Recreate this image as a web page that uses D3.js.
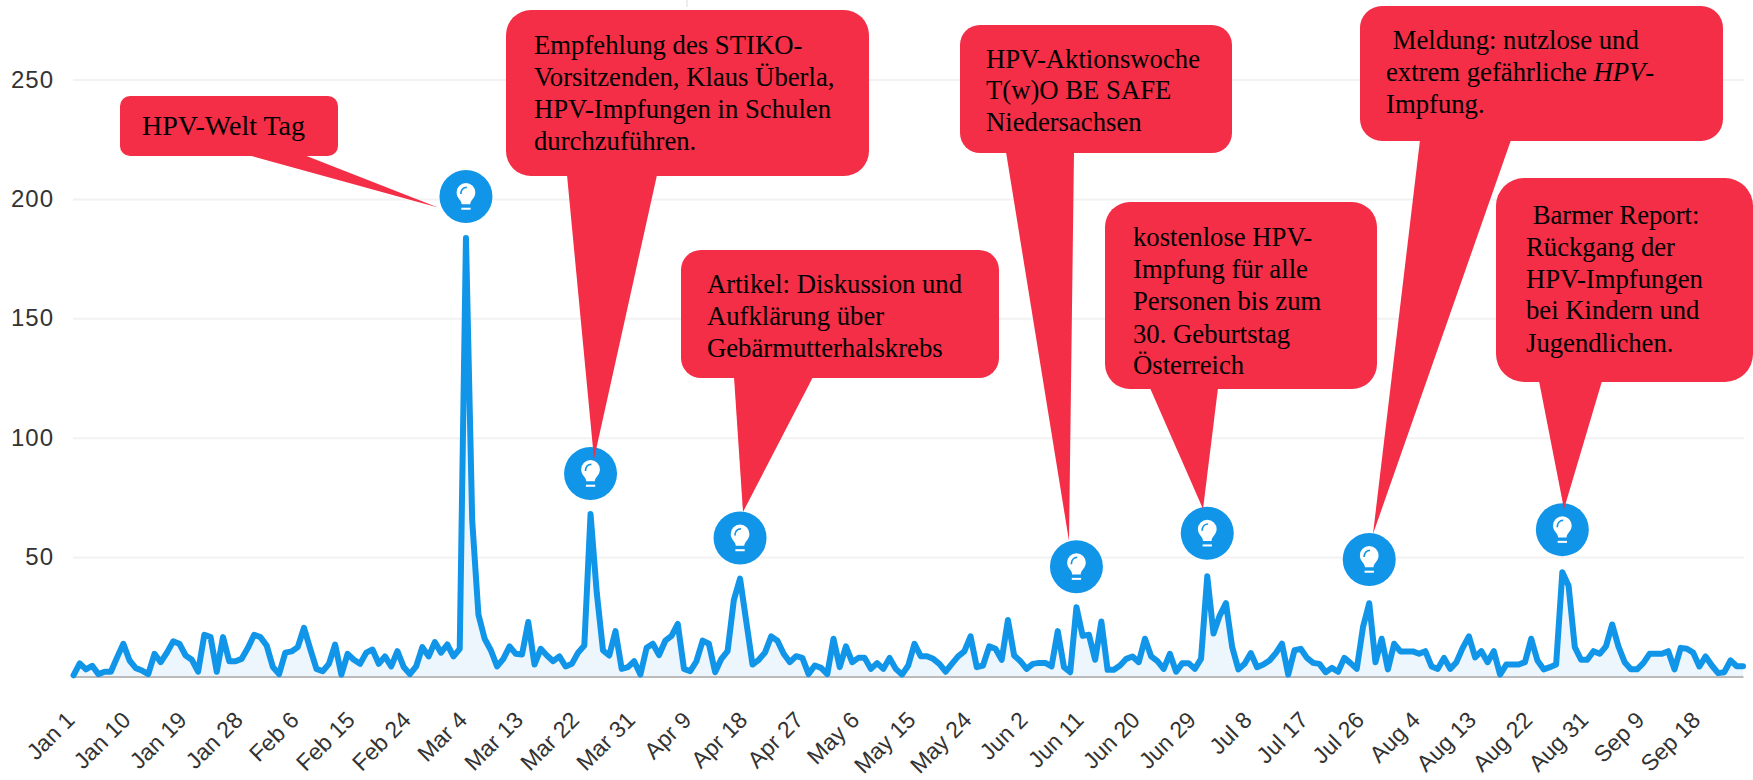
<!DOCTYPE html>
<html><head><meta charset="utf-8">
<script src="https://cdn.jsdelivr.net/npm/d3@7"></script>
<style>html,body{margin:0;padding:0;background:#fff;overflow:hidden}svg{display:block}</style>
</head><body><svg id="c" width="1753" height="780"></svg>
<script>
const values = [0.5,5.5,3,4.5,1,2,2,8,13.7,6.7,3.5,2.5,1,9.5,6,10,14.7,13.7,8.8,7,2,17.5,16.5,2,16.5,6.4,6.4,7.4,12,17.5,16.5,13,4,1,10,10.5,12.3,20.4,11.6,3.2,2.2,5.3,13.4,0.8,9.5,7,5.3,10,11.3,5.3,8.4,4.2,10.6,4,1,4.2,12.3,8.4,14.4,10,13.4,8.4,11.6,183.6,65.5,26,15.8,11,4.2,7.4,12.6,9.5,9.2,22.8,5,11.6,8.8,6.4,8.4,4.2,5.3,10,13,68,35,10.9,8.8,19,3.2,3.9,6.4,0.8,12,13.7,9,15,17,22,3.2,2.2,6.4,15,13.7,1.8,7.4,10.6,32,41,23,5,7,10,16.8,15,9.5,6,8.5,7.8,1,4.6,3.6,1,15.8,3.9,12.6,6,7.8,7.8,3.2,5.6,3.2,7.8,3.2,0.8,4.6,13.7,8.5,8.5,7.4,5.3,2,5.3,8.4,10.5,16.8,3.9,4.6,12.6,11.6,7,23.7,8.8,6.4,3.2,5.3,5.7,5.7,4.2,19,3.9,1.8,29,17,17.5,7,23,2.8,2.8,4.6,7.4,8.4,6,15.8,8.4,6.4,3.2,9.5,2,5.6,5.6,3.2,7.4,42,18,25.5,30.7,12.3,3,5.3,9.8,3.9,5,6.7,9.8,13.7,0.8,11,11.6,7.8,5.7,5.3,1.8,3.6,2,7.8,5.6,3.2,20.7,30.7,6,15.8,3,13.7,10.5,10.5,10.5,9.5,10.6,4.2,3.2,7.8,3.2,6,12,16.8,8,10.6,6,10.6,0.8,5,5,5,6,15.8,6.7,3,3.9,5,43.7,38,12.3,7,7,10.6,9.5,12.6,21.8,12.6,6,3,3,5.6,9.5,9.5,9.5,10.6,3,12,11.6,10,4.2,8.4,4.6,1.4,1.8,6.7,4.3,4.3];
const tickLabels = ["Jan 1","Jan 10","Jan 19","Jan 28","Feb 6","Feb 15","Feb 24","Mar 4","Mar 13","Mar 22","Mar 31","Apr 9","Apr 18","Apr 27","May 6","May 15","May 24","Jun 2","Jun 11","Jun 20","Jun 29","Jul 8","Jul 17","Jul 26","Aug 4","Aug 13","Aug 22","Aug 31","Sep 9","Sep 18"];
const yTicks = [50,100,150,200,250];
const markerIndex = [63,83,107,161,182,208,239];
const markerValue = [201,85,58,46,60,49,61.5];
const notes = [
 [["HPV-Welt Tag"]],
 [["Empfehlung des STIKO-"],["Vorsitzenden, Klaus Überla,"],["HPV-Impfungen in Schulen"],["durchzuführen."]],
 [["Artikel: Diskussion und"],["Aufklärung über"],["Gebärmutterhalskrebs"]],
 [["HPV-Aktionswoche"],["T(w)O BE SAFE"],["Niedersachsen"]],
 [["kostenlose HPV-"],["Impfung für alle"],["Personen bis zum"],["30. Geburtstag"],["Österreich"]],
 [["\u00a0Meldung: nutzlose und"],["extrem gefährliche ","HPV","-"],["Impfung."]],
 [["\u00a0Barmer Report:"],["Rückgang der"],["HPV-Impfungen"],["bei Kindern und"],["Jugendlichen."]]
];
// callout layout: box x0,x1,y0,y1,radius; tail base x0,x1; tip x,y; text x; line baselines; font size
const noteLayout = [
 {b:[120,338,96,156,10],t:[248,304],p:[438,207.5],x:142,y:[135],f:28},
 {b:[506,869,10,176,25],t:[567,657],p:[594,459],x:534,y:[54,86,118,150],f:26.7},
 {b:[681,999,250,378,20],t:[734,813],p:[743,512],x:707,y:[293,325,357],f:26.7},
 {b:[960,1232,25,153,20],t:[1006,1074],p:[1069,541],x:986,y:[68,99,131],f:26.7},
 {b:[1105,1377,202,389,25],t:[1150,1218],p:[1203,509],x:1133,y:[246,278,310,343,374],f:26.7},
 {b:[1360,1723,6,141,22],t:[1420,1511],p:[1373,534],x:1386,y:[49,81,113],f:26.7},
 {b:[1496,1753,178,382,28],t:[1539,1602],p:[1564,509],x:1526,y:[224,256,288,319,352],f:26.7}
];
const svg = d3.select("#c");
const x = d3.scaleLinear().domain([0,268]).range([73.5,1743]);
const y = d3.scaleLinear().domain([0,250]).range([676.5,79.5]);
const BLUE="#1095e9", RED="#f32e46";

const gy = svg.append("g").attr("transform","translate(73,0)")
  .call(d3.axisLeft(y).tickValues(yTicks).tickSize(-1671).tickPadding(19));
gy.select(".domain").remove();
gy.selectAll("line").attr("stroke","#f2f2f2").attr("stroke-width",2);
gy.selectAll("text").attr("font-family","'Liberation Sans',Arial,sans-serif").attr("font-size",24).attr("letter-spacing",1).attr("fill","#333");

svg.append("path").attr("d",d3.area().x((d,i)=>x(i)).y0(y(0)).y1(d=>y(d))(values)).attr("fill","#edf6fc");

const gx = svg.append("g").attr("transform",`translate(0,${y(0)})`)
  .call(d3.axisBottom(x).tickValues(tickLabels.map((d,i)=>i*9)).tickFormat((d,i)=>tickLabels[i]).tickSize(0));
gx.select(".domain").attr("stroke","#bbb").attr("stroke-width",2);
gx.selectAll("text").attr("font-family","'Liberation Sans',Arial,sans-serif").attr("font-size",23).attr("fill","#333")
  .attr("text-anchor","end").attr("dx",0).attr("dy",0).attr("y",0)
  .attr("transform","translate(2,45) rotate(-45)");

svg.append("path").attr("d",d3.line().x((d,i)=>x(i)).y(d=>y(d))(values))
  .attr("fill","none").attr("stroke",BLUE).attr("stroke-width",6).attr("stroke-linejoin","round").attr("stroke-linecap","round");

const m = svg.selectAll("g.marker").data(markerIndex).join("g").attr("class","marker")
  .attr("transform",(d,i)=>`translate(${x(d)},${y(markerValue[i])})`);
m.append("circle").attr("r",26.5).attr("fill",BLUE);
const bulb = m.append("g").attr("transform","translate(0,1) scale(0.85)");
bulb.append("path").attr("fill","#fff")
  .attr("d","M-5,8 C-5,3 -11,1 -11,-6 A11,11 0 0 1 11,-6 C11,1 5,3 5,8 Z");
bulb.append("path").attr("fill","none").attr("stroke",BLUE).attr("stroke-width",2)
  .attr("d","M-6,-4 C-6,-9 -3,-12 1,-12");
bulb.append("rect").attr("x",-5.5).attr("y",12).attr("width",11).attr("height",2.4).attr("fill","#fff");

const n = svg.selectAll("g.note").data(noteLayout).join("g").attr("class","note");
n.append("rect").attr("x",d=>d.b[0]).attr("y",d=>d.b[2]).attr("width",d=>d.b[1]-d.b[0]).attr("height",d=>d.b[3]-d.b[2]).attr("rx",d=>d.b[4]).attr("fill",RED);
n.append("path").attr("fill",RED).attr("d",d=>`M${d.t[0]},${d.b[3]-1}L${d.t[1]},${d.b[3]-1}L${d.p[0]},${d.p[1]}Z`);
n.each(function(d,i){
  const g=d3.select(this);
  notes[i].forEach((line,j)=>{
    const t=g.append("text").attr("x",d.x).attr("y",d.y[j]).attr("font-family","'Liberation Serif','Times New Roman',serif").attr("font-size",d.f).attr("fill","#000").attr("xml:space","preserve");
    line.forEach((s,k)=>t.append("tspan").attr("font-style",k===1?"italic":"normal").text(s));
  });
});
svg.append("line").attr("x1",687).attr("x2",687).attr("y1",0).attr("y2",7).attr("stroke","#e8e8e8").attr("stroke-width",1.5);
</script></body></html>
